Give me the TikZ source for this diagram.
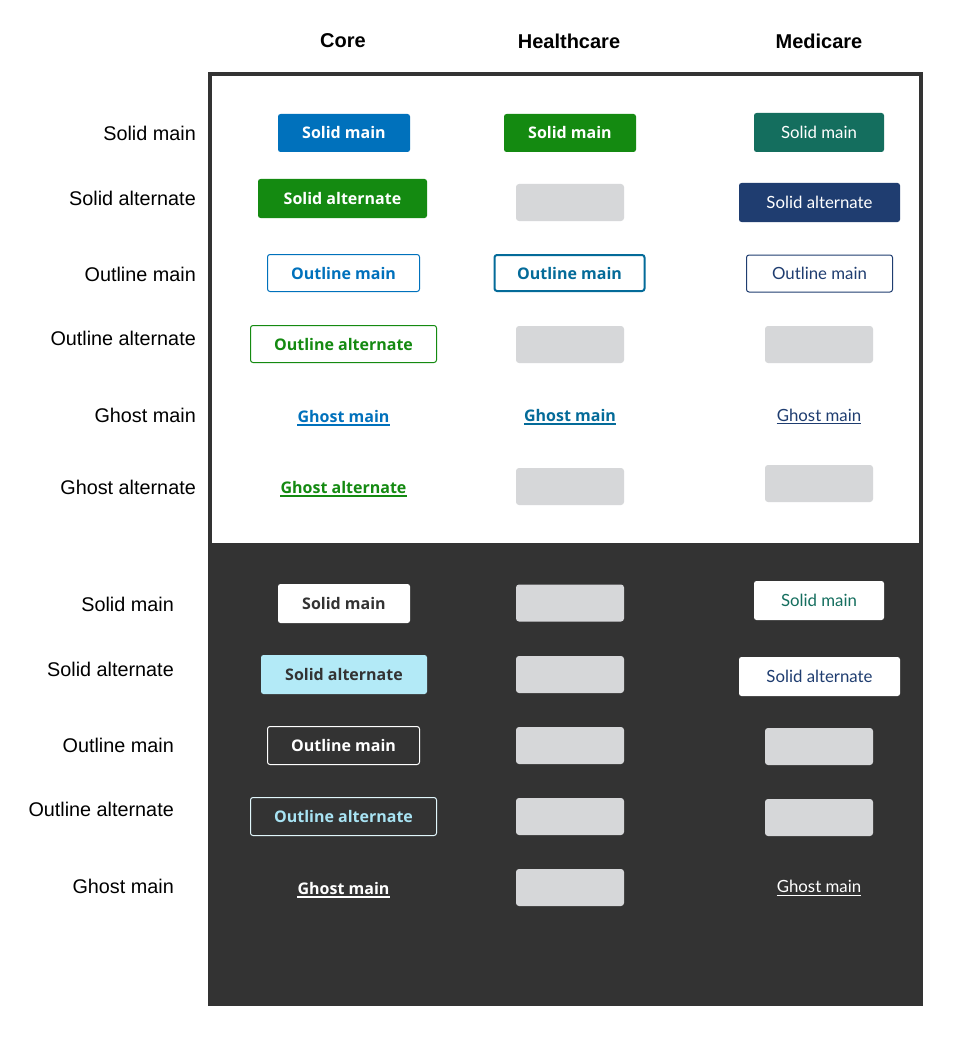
\documentclass[tikz,border=0pt]{standalone}
\usepackage{fontspec}
\setmainfont{Liberation Sans}
\newfontfamily\osans{Open Sans}
\newfontfamily\rub{Lato}
\definecolor{dk}{HTML}{333333}
\definecolor{coreblue}{HTML}{0071BC}
\definecolor{coregreen}{HTML}{148A11}
\definecolor{hcblue}{HTML}{046B99}
\definecolor{mteal}{HTML}{146E5E}
\definecolor{mnavy}{HTML}{1F3D70}
\definecolor{phgray}{HTML}{D6D7D9}
\definecolor{lcyan}{HTML}{B3EAF7}
\definecolor{lcyantext}{HTML}{A8E3F3}
\tikzset{
  btn/.style={rectangle, rounded corners=2.5pt, inner sep=0pt, align=center,
    font=\osans\bfseries\fontsize{16}{19}\selectfont},
  mbtn/.style={btn, font=\rub\fontsize{16.8}{19}\selectfont},
  ph/.style={rectangle, rounded corners=3pt, fill=phgray, minimum width=108pt, minimum height=37pt, inner sep=0pt},
  ghost/.style={inner sep=0pt, font=\osans\bfseries\fontsize{16}{19}\selectfont},
  mghost/.style={inner sep=0pt, font=\rub\fontsize{16.8}{19}\selectfont},
  rowlab/.style={anchor=east, inner sep=0pt, font=\fontsize{19.8}{23}\selectfont},
  colhead/.style={inner sep=0pt, font=\bfseries\fontsize{20}{23}\selectfont},
  uline/.style={line width=1.4pt},
  muline/.style={line width=1pt}
}
\begin{document}
\begin{tikzpicture}[x=1pt,y=-1pt]
\useasboundingbox (0,0) rectangle (965,1043);
\fill[white] (0,0) rectangle (965,1043);
% frame
\fill[dk] (208,72) rectangle (923,1006);
\fill[white] (212,76) rectangle (919,543);

% column headers
\node[colhead] (hcore) at (343,41) {Core};
\node[colhead] (hhc) at (569,41) {Healthcare};
\node[colhead] (hmed) at (819,41) {Medicare};

% row labels top
\node[rowlab] (l1) at (196,133) {Solid main};
\node[rowlab] (l2) at (196,198) {Solid alternate};
\node[rowlab] (l3) at (196,274) {Outline main};
\node[rowlab] (l4) at (196,338) {Outline alternate};
\node[rowlab] (l5) at (196,415) {Ghost main};
\node[rowlab] (l6) at (196,487) {Ghost alternate};
% row labels bottom
\node[rowlab] (d1) at (174,604) {Solid main};
\node[rowlab] (d2) at (174,669) {Solid alternate};
\node[rowlab] (d3) at (174,745) {Outline main};
\node[rowlab] (d4) at (174,809) {Outline alternate};
\node[rowlab] (d5) at (174,886) {Ghost main};

% ---- Core light
\node[btn, fill=coreblue, text=white, minimum width=132pt, minimum height=38pt] (c1) at (344,133) {Solid main};
\node[btn, fill=coregreen, text=white, minimum width=169pt, minimum height=39pt] (c2) at (342.5,198.5) {Solid alternate};
\node[btn, draw=coreblue, line width=1pt, text=coreblue, minimum width=152pt, minimum height=37pt] (c3) at (343.5,273) {Outline main};
\node[btn, draw=coregreen, line width=1pt, text=coregreen, minimum width=186pt, minimum height=37pt] (c4) at (343.5,344) {Outline alternate};
\node[ghost, text=coreblue] (c5) at (343.5,416) {Ghost main};
\draw[uline, coreblue] ([yshift=-3pt]c5.base west) -- ([yshift=-3pt]c5.base east);
\node[ghost, text=coregreen] (c6) at (343.5,487) {Ghost alternate};
\draw[uline, coregreen] ([yshift=-3pt]c6.base west) -- ([yshift=-3pt]c6.base east);

% ---- Healthcare light
\node[btn, fill=coregreen, text=white, minimum width=132pt, minimum height=38pt] (h1) at (570,133) {Solid main};
\node[ph] (h2) at (570,202.5) {};
\node[btn, draw=hcblue, line width=2pt, text=hcblue, minimum width=150pt, minimum height=36pt] (h3) at (569.5,273) {Outline main};
\node[ph] (h4) at (570,344.5) {};
\node[ghost, text=hcblue] (h5) at (570,415) {Ghost main};
\draw[uline, hcblue] ([yshift=-3pt]h5.base west) -- ([yshift=-3pt]h5.base east);
\node[ph] (h6) at (570,486.5) {};

% ---- Medicare light
\node[mbtn, fill=mteal, text=white, minimum width=130pt, minimum height=39pt] (m1) at (819,132.5) {Solid main};
\node[mbtn, fill=mnavy, text=white, minimum width=161pt, minimum height=39pt] (m2) at (819.5,202.5) {Solid alternate};
\node[mbtn, draw=mnavy, line width=1pt, text=mnavy, minimum width=146pt, minimum height=37pt] (m3) at (819.5,273.5) {Outline main};
\node[ph] (m4) at (819,344.5) {};
\node[mghost, text=mnavy] (m5) at (819,415) {Ghost main};
\draw[muline, mnavy] ([yshift=-2.5pt]m5.base west) -- ([yshift=-2.5pt]m5.base east);
\node[ph] (m6) at (819,483.5) {};

% ---- Core dark
\node[btn, fill=white, text=dk, minimum width=132pt, minimum height=39pt] (cd1) at (344,603.5) {Solid main};
\node[btn, fill=lcyan, text=dk, minimum width=166pt, minimum height=39pt] (cd2) at (344,674.5) {Solid alternate};
\node[btn, draw=white, line width=1pt, text=white, minimum width=152pt, minimum height=38pt] (cd3) at (343.5,745.5) {Outline main};
\node[btn, draw=lcyan!40!white, line width=1pt, text=lcyantext, minimum width=186pt, minimum height=38pt] (cd4) at (343.5,816.5) {Outline alternate};
\node[ghost, text=white] (cd5) at (343.5,888) {Ghost main};
\draw[uline, white] ([yshift=-3pt]cd5.base west) -- ([yshift=-3pt]cd5.base east);

% ---- Healthcare dark
\node[ph] (hd1) at (570,603) {};
\node[ph] (hd2) at (570,674.5) {};
\node[ph] (hd3) at (570,745.5) {};
\node[ph] (hd4) at (570,816.5) {};
\node[ph] (hd5) at (570,887.5) {};

% ---- Medicare dark
\node[mbtn, fill=white, text=mteal, minimum width=130pt, minimum height=39pt] (md1) at (819,600.5) {Solid main};
\node[mbtn, fill=white, text=mnavy, minimum width=161pt, minimum height=39pt] (md2) at (819.5,676.5) {Solid alternate};
\node[ph] (md3) at (819,746.5) {};
\node[ph] (md4) at (819,817.5) {};
\node[mghost, text=white] (md5) at (819,886.5) {Ghost main};
\draw[muline, white] ([yshift=-2.5pt]md5.base west) -- ([yshift=-2.5pt]md5.base east);
\end{tikzpicture}
\end{document}
